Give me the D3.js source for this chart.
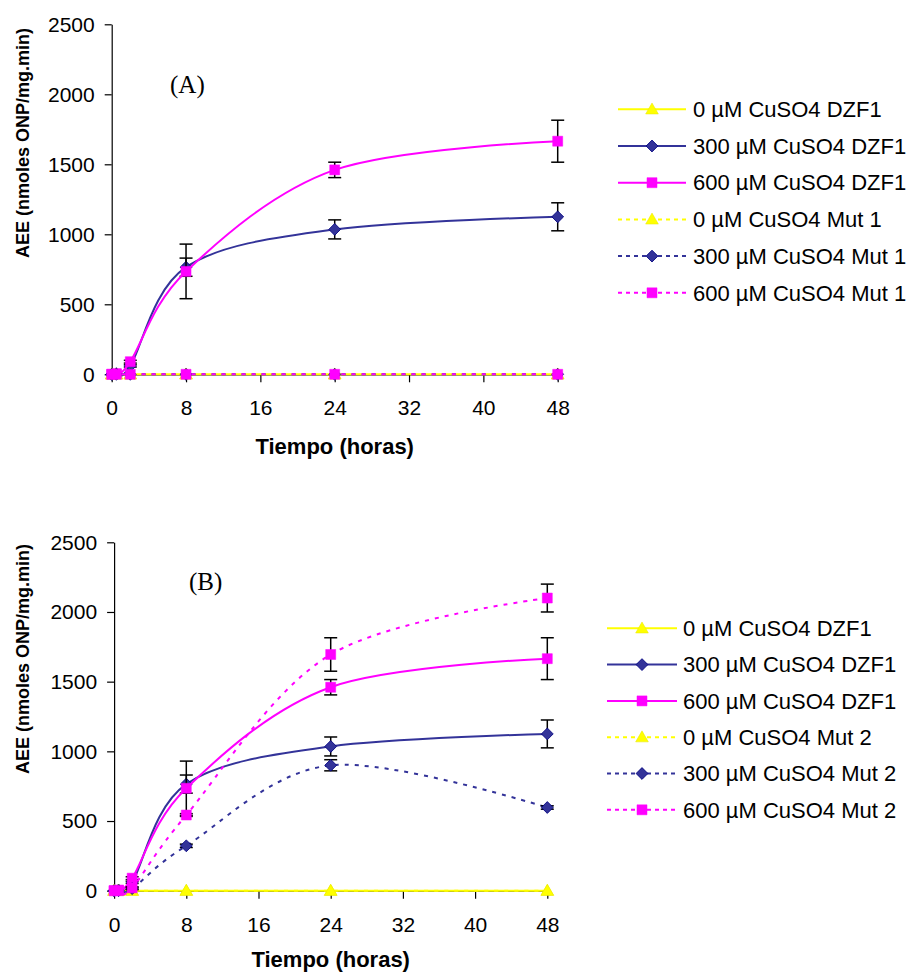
<!DOCTYPE html>
<html>
<head>
<meta charset="utf-8">
<script src="https://cdn.jsdelivr.net/npm/d3@7"></script>
<style>
  html, body { margin: 0; padding: 0; background: #fff; }
  svg { display: block; }
</style>
</head>
<body>
<script>
// Sampling times (hours) and axis ticks
const hours = [0, 0.5, 2, 8, 24, 48];
const xTicks = [0, 8, 16, 24, 32, 40, 48];
const yTicks = [0, 500, 1000, 1500, 2000, 2500];

// DZF1 (wild type) activity, nmoles ONP/mg.min
const dzf1Cu0 = [0, 0, 0, 0, 0, 0];
const dzf1Cu0Err = [0, 0, 0, 0, 0, 0];
const dzf1Cu300 = [0, 5, 60, 765, 1035, 1125];
const dzf1Cu300Err = [0, 0, 8, 65, 68, 100];
const dzf1Cu600 = [0, 5, 90, 735, 1460, 1665];
const dzf1Cu600Err = [0, 0, 10, 195, 55, 150];

// Mutant 1
const mut1Cu0 = [0, 0, 0, 0, 0, 0];
const mut1Cu300 = [0, 0, 0, 0, 0, 0];
const mut1Cu600 = [0, 0, 0, 0, 0, 0];
const zeroErr = [0, 0, 0, 0, 0, 0];

// Mutant 2
const mut2Cu0 = [0, 0, 0, 0, 0, 0];
const mut2Cu300 = [0, 0, 15, 322, 900, 597];
const mut2Cu300Err = [0, 0, 8, 12, 40, 12];
const mut2Cu600 = [0, 0, 20, 543, 1695, 2100];
const mut2Cu600Err = [0, 0, 8, 10, 120, 100];

// Legend labels
const labelsA = ["0 µM CuSO4 DZF1", "300 µM CuSO4 DZF1", "600 µM CuSO4 DZF1",
                 "0 µM CuSO4 Mut 1", "300 µM CuSO4 Mut 1", "600 µM CuSO4 Mut 1"];
const labelsB = ["0 µM CuSO4 DZF1", "300 µM CuSO4 DZF1", "600 µM CuSO4 DZF1",
                 "0 µM CuSO4 Mut 2", "300 µM CuSO4 Mut 2", "600 µM CuSO4 Mut 2"];

const YELLOW = "#FFFF00", NAVY = "#333399", MAGENTA = "#FF00FF";
const FONT = "'Liberation Sans', Arial, Helvetica, sans-serif";

function seriesSet(labels, mut0, mut300, mut600, e300, e600) {
  return [
    { name: labels[0], values: dzf1Cu0, err: dzf1Cu0Err, color: YELLOW, marker: "triangle", dashed: false },
    { name: labels[1], values: dzf1Cu300, err: dzf1Cu300Err, color: NAVY, marker: "diamond", dashed: false },
    { name: labels[2], values: dzf1Cu600, err: dzf1Cu600Err, color: MAGENTA, marker: "square", dashed: false },
    { name: labels[3], values: mut0, err: zeroErr, color: YELLOW, marker: "triangle", dashed: true },
    { name: labels[4], values: mut300, err: e300, color: NAVY, marker: "diamond", dashed: true },
    { name: labels[5], values: mut600, err: e600, color: MAGENTA, marker: "square", dashed: true }
  ];
}

const svg = d3.select("body").append("svg")
  .attr("width", 913).attr("height", 974);

function drawMarker(sel, type, color, cx, cy) {
  if (type === "triangle") {
    sel.append("path")
      .attr("d", d3.symbol().type(d3.symbolTriangle).size(70)())
      .attr("transform", `translate(${cx},${cy + 1})`)
      .attr("fill", color).attr("stroke", "#E6E600").attr("stroke-width", 0.5);
  } else if (type === "diamond") {
    sel.append("path")
      .attr("d", d3.symbol().type(d3.symbolSquare).size(70)())
      .attr("transform", `translate(${cx},${cy}) rotate(45)`)
      .attr("fill", color).attr("stroke", "#000080").attr("stroke-width", 0.8);
  } else {
    sel.append("path")
      .attr("d", d3.symbol().type(d3.symbolSquare).size(100)())
      .attr("transform", `translate(${cx},${cy})`)
      .attr("fill", color).attr("stroke", color).attr("stroke-width", 0.5);
  }
}

function drawPanel(p) {
  const x = d3.scaleLinear().domain([0, 48]).range([p.left, p.right]);
  const y = d3.scaleLinear().domain([0, 2500]).range([p.bottom, p.top]);
  const g = svg.append("g");

  // Axes
  const yAxis = g.append("g")
    .attr("transform", `translate(${p.left},0)`)
    .call(d3.axisLeft(y).tickValues(yTicks).tickSize(7).tickSizeOuter(0).tickPadding(10).tickFormat(d3.format("d")));
  const xAxis = g.append("g")
    .attr("transform", `translate(0,${y(0)})`)
    .call(d3.axisBottom(x).tickValues(xTicks).tickSize(8).tickSizeOuter(0).tickPadding(18).tickFormat(d3.format("d")));
  [yAxis, xAxis].forEach(a => {
    a.attr("font-family", FONT).attr("font-size", 21);
    a.selectAll("text").attr("fill", "#000");
    a.selectAll("line, path").attr("stroke", "#000").attr("stroke-width", 1.2);
  });

  // Axis titles
  g.append("text")
    .attr("x", (p.left + p.right) / 2).attr("y", p.xTitleY)
    .attr("text-anchor", "middle")
    .attr("font-family", FONT).attr("font-weight", "bold").attr("font-size", 22)
    .text("Tiempo (horas)");
  g.append("text")
    .attr("transform", `translate(${p.yTitleX},${p.yTitleCY}) rotate(-90)`)
    .attr("text-anchor", "middle")
    .attr("font-family", FONT).attr("font-weight", "bold").attr("font-size", 18)
    .text("AEE (nmoles ONP/mg.min)");

  // Panel tag
  g.append("text")
    .attr("x", p.tagX).attr("y", p.tagY)
    .attr("font-family", "'Liberation Serif', 'Times New Roman', serif").attr("font-size", 25)
    .text(p.tag);

  const line = d3.line()
    .x((d, i) => x(hours[i]))
    .y(d => y(d))
    .curve(d3.curveCatmullRom.alpha(0));

  // Series: line, error bars, markers
  p.series.forEach(s => {
    const sg = g.append("g");
    sg.append("path")
      .attr("d", line(s.values))
      .attr("fill", "none")
      .attr("stroke", s.color)
      .attr("stroke-width", 2)
      .attr("stroke-dasharray", s.dashed ? "4,6" : null);

    s.values.forEach((v, i) => {
      const e = s.err[i];
      if (e > 0) {
        const cx = x(hours[i]);
        sg.append("line").attr("x1", cx).attr("x2", cx)
          .attr("y1", y(v - e)).attr("y2", y(v + e))
          .attr("stroke", "#000").attr("stroke-width", 1.5);
        [v - e, v + e].forEach(t => {
          sg.append("line").attr("x1", cx - 6.5).attr("x2", cx + 6.5)
            .attr("y1", y(t)).attr("y2", y(t))
            .attr("stroke", "#000").attr("stroke-width", 1.5);
        });
      }
    });
    s.values.forEach((v, i) => drawMarker(sg, s.marker, s.color, x(hours[i]), y(v)));
  });

  // Legend
  const lg = svg.append("g");
  p.series.forEach((s, i) => {
    const cy = p.legTop + i * p.legStep;
    lg.append("line")
      .attr("x1", p.legX1).attr("x2", p.legX2).attr("y1", cy).attr("y2", cy)
      .attr("stroke", s.color).attr("stroke-width", 2)
      .attr("stroke-dasharray", s.dashed ? "4,4" : null);
    drawMarker(lg, s.marker, s.color, (p.legX1 + p.legX2) / 2, cy);
    lg.append("text")
      .attr("x", p.legTextX).attr("y", cy + 7.7)
      .attr("font-family", FONT).attr("font-size", 22)
      .text(s.name);
  });
}

drawPanel({
  left: 111.7, right: 557.7, top: 24.3, bottom: 374.3,
  xTitleY: 454, yTitleX: 29, yTitleCY: 143,
  tag: "(A)", tagX: 170, tagY: 93,
  legTop: 109.3, legStep: 36.7, legX1: 618, legX2: 686, legTextX: 693,
  series: seriesSet(labelsA, mut1Cu0, mut1Cu300, mut1Cu600, zeroErr, zeroErr)
});

drawPanel({
  left: 114.1, right: 547.3, top: 542.3, bottom: 890.7,
  xTitleY: 967, yTitleX: 29, yTitleCY: 659,
  tag: "(B)", tagX: 189, tagY: 590,
  legTop: 628.3, legStep: 36.3, legX1: 607, legX2: 677, legTextX: 683,
  series: seriesSet(labelsB, mut2Cu0, mut2Cu300, mut2Cu600, mut2Cu300Err, mut2Cu600Err)
});
</script>
</body>
</html>
